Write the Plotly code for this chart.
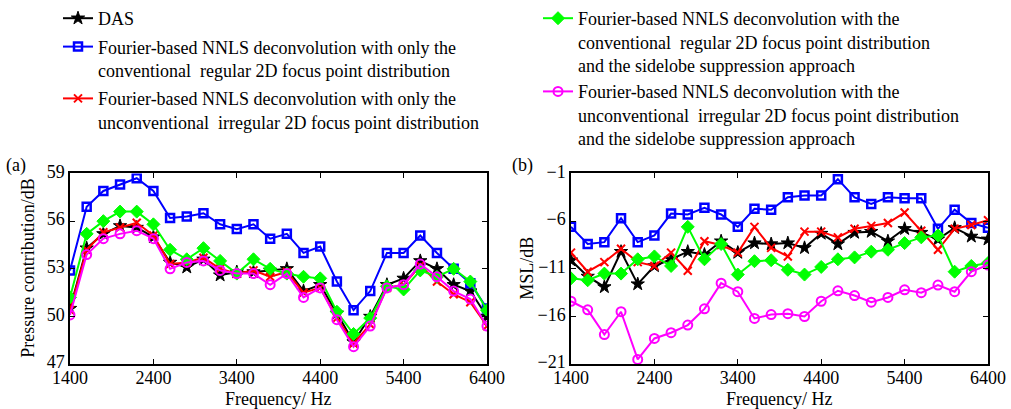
import plotly.graph_objects as go
from plotly.subplots import make_subplots

freq = [1400, 1600, 1800, 2000, 2200, 2400, 2600, 2800, 3000, 3200, 3400, 3600, 3800,
        4000, 4200, 4400, 4600, 4800, 5000, 5200, 5400, 5600, 5800, 6000, 6200, 6400]

# (a) Pressure contribution / dB
das_p = [50.5, 54.3, 55.2, 55.7, 55.6, 55.0, 53.4, 53.1, 53.6, 52.6, 52.8, 52.8, 52.9,
         53.0, 51.6, 52.0, 50.2, 48.4, 50.0, 52.0, 52.4, 53.5, 53.0, 52.0, 51.6, 50.0]
blue_p = [52.9, 56.9, 57.9, 58.3, 58.7, 57.9, 56.2, 56.3, 56.5, 55.8, 55.5, 55.8, 54.9,
          55.2, 54.0, 54.4, 52.2, 50.4, 51.6, 54.0, 54.0, 55.1, 54.0, 53.0, 52.1, 50.5]
red_p = [50.4, 54.2, 55.3, 55.6, 55.9, 55.1, 53.3, 53.4, 53.7, 53.0, 52.7, 52.9, 52.5,
         52.8, 51.5, 51.8, 49.9, 48.3, 49.5, 51.8, 52.0, 53.2, 52.2, 51.4, 50.9, 49.4]
green_p = [51.2, 55.2, 56.0, 56.6, 56.6, 55.8, 54.2, 53.6, 54.3, 53.5, 52.7, 53.6, 53.0,
           52.7, 52.5, 52.4, 50.3, 48.9, 49.9, 51.9, 51.7, 52.9, 52.5, 53.0, 52.2, 50.4]
magenta_p = [50.1, 53.9, 54.9, 55.2, 55.4, 54.9, 53.0, 53.4, 53.5, 52.9, 52.7, 52.7, 52.0,
             52.7, 51.2, 51.8, 49.8, 48.1, 49.4, 51.8, 52.0, 53.3, 52.5, 51.6, 51.1, 49.4]

# (b) MSL / dB
das_m = [-10.1, -11.8, -12.9, -9.2, -12.6, -10.7, -10.0, -9.2, -9.5, -8.1, -9.3, -8.3, -8.4,
         -8.3, -8.8, -7.3, -8.4, -7.2, -7.1, -8.1, -6.8, -7.2, -7.9, -6.7, -7.6, -7.9]
blue_m = [-6.6, -8.4, -8.2, -5.7, -8.2, -7.5, -5.2, -5.3, -4.6, -5.3, -6.6, -4.7, -4.8,
          -3.5, -3.3, -3.3, -1.6, -3.5, -4.2, -3.5, -3.6, -3.6, -6.8, -4.8, -6.2, -6.7]
red_m = [-9.3, -11.3, -10.3, -8.9, -10.3, -10.7, -9.3, -11.2, -8.1, -8.5, -9.3, -6.6, -8.8,
         -9.7, -7.1, -7.1, -7.7, -6.8, -6.5, -6.2, -5.1, -7.0, -9.0, -6.8, -6.4, -5.9]
green_m = [-12.0, -12.2, -11.5, -11.5, -10.0, -9.7, -10.7, -6.6, -10.0, -8.4, -11.6, -10.2, -10.1,
           -11.1, -11.6, -10.8, -10.0, -9.8, -9.2, -9.0, -8.3, -7.7, -7.5, -11.3, -10.7, -10.4]
magenta_m = [-14.4, -15.3, -17.9, -15.5, -20.5, -18.3, -17.7, -16.9, -15.2, -12.5, -13.4, -16.2, -15.8,
             -15.7, -16.0, -14.4, -13.3, -13.8, -14.5, -14.0, -13.2, -13.5, -12.7, -13.4, -11.3, -10.6]

names = [
    "DAS",
    "Fourier-based NNLS deconvolution with only the<br>conventional  regular 2D focus point distribution",
    "Fourier-based NNLS deconvolution with only the<br>unconventional  irregular 2D focus point distribution",
    "Fourier-based NNLS deconvolution with the<br>conventional  regular 2D focus point distribution<br>and the sidelobe suppression approach",
    "Fourier-based NNLS deconvolution with the<br>unconventional  irregular 2D focus point distribution<br>and the sidelobe suppression approach",
]
colors = ["#000000", "#0000FF", "#FF0000", "#00FF00", "#FF00FF"]
symbols = ["star", "square-open", "x-thin-open", "diamond", "circle-open"]
msizes = [10, 8, 8, 10, 9]
mlw = [1, 2.5, 2, 1, 2]
legend_ids = ["legend", "legend", "legend", "legend2", "legend2"]

series_a = [das_p, blue_p, red_p, green_p, magenta_p]
series_b = [das_m, blue_m, red_m, green_m, magenta_m]

fig = make_subplots(rows=1, cols=2)

for i in range(5):
    for col, data in ((1, series_a[i]), (2, series_b[i])):
        fig.add_trace(go.Scatter(
            x=freq, y=data, mode="lines+markers", name=names[i],
            line=dict(color=colors[i], width=2),
            marker=dict(symbol=symbols[i], size=msizes[i], color=colors[i],
                        line=dict(color=colors[i], width=mlw[i])),
            legend=legend_ids[i], legendgroup=str(i), showlegend=(col == 1),
        ), row=1, col=col)

W, H = 1011, 409
font_family = "Liberation Serif, Times New Roman, serif"
tfont = dict(family=font_family, size=18, color="black")
axis_common = dict(
    showline=True, linecolor="black", linewidth=1.5, mirror="ticks", automargin=False,
    ticks="inside", ticklen=5, tickcolor="black", showgrid=False, zeroline=False,
    tickfont=tfont,
)

fig.update_xaxes(**axis_common, range=[1400, 6400], tickvals=[1400, 2400, 3400, 4400, 5400, 6400],
                 ticklabelstandoff=-4)
fig.update_yaxes(**axis_common, ticklabelshift=-2)
fig.update_layout(
    template="none",
    xaxis=dict(domain=[70 / W, 487 / W]),
    xaxis2=dict(domain=[571 / W, 988 / W]),
    yaxis=dict(domain=[47 / H, 247 / H], range=[47, 59], tickvals=[47, 50, 53, 56, 59]),
    yaxis2=dict(domain=[47 / H, 247 / H], range=[-21, -1], tickvals=[-21, -16, -11, -6, -1]),
)

def ann(text, x, y, angle=0):
    return dict(text=text, x=x / W, y=(H - y) / H, xref="paper", yref="paper", showarrow=False,
                xanchor="center", yanchor="middle", textangle=angle, font=tfont)

annotations = [
    ann("(a)", 16, 154),
    ann("(b)", 522, 154),
    ann("Frequency/ Hz", 278, 398),
    ann("Frequency/ Hz", 779, 398),
    ann("Pressure contribution/dB", 28, 262, -90),
    ann("MSL/dB", 527, 262, -90),
]

fig.update_layout(
    width=W, height=H, autosize=False,
    margin=dict(l=0, r=0, t=0, b=0),
    paper_bgcolor="white", plot_bgcolor="white",
    font=tfont,
    legend=dict(x=58 / W, y=1.05, xanchor="left", yanchor="top", valign="top",
                bgcolor="rgba(0,0,0,0)", font=tfont, tracegroupgap=2, itemwidth=30),
    legend2=dict(x=538 / W, y=1.05, xanchor="left", yanchor="top", valign="top",
                 bgcolor="rgba(0,0,0,0)", font=tfont, tracegroupgap=0, itemwidth=30),
    annotations=annotations,
)

fig.write_html("out.html", config={"displayModeBar": False},
               post_script="document.body.style.margin='0';")
